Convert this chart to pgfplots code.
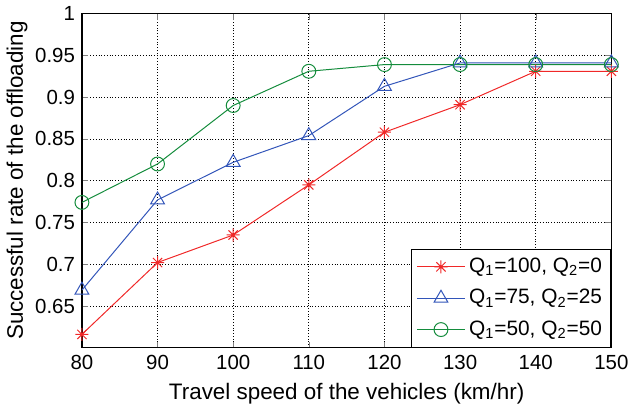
\documentclass[border=0pt]{standalone}
\usepackage{pgfplots}
\pgfplotsset{compat=1.18}
\usepackage{fontspec}
\setmainfont{Liberation Sans}
\definecolor{cred}{RGB}{240,40,40}
\definecolor{cblue}{RGB}{50,85,185}
\definecolor{cgreen}{RGB}{20,140,60}
\pgfdeclareplotmark{star8}{%
  \pgfpathmoveto{\pgfqpoint{0pt}{\pgfplotmarksize}}%
  \pgfpathlineto{\pgfqpoint{0pt}{-\pgfplotmarksize}}%
  \pgfpathmoveto{\pgfqpoint{\pgfplotmarksize}{0pt}}%
  \pgfpathlineto{\pgfqpoint{-\pgfplotmarksize}{0pt}}%
  \pgfpathmoveto{\pgfqpoint{0.707\pgfplotmarksize}{0.707\pgfplotmarksize}}%
  \pgfpathlineto{\pgfqpoint{-0.707\pgfplotmarksize}{-0.707\pgfplotmarksize}}%
  \pgfpathmoveto{\pgfqpoint{0.707\pgfplotmarksize}{-0.707\pgfplotmarksize}}%
  \pgfpathlineto{\pgfqpoint{-0.707\pgfplotmarksize}{0.707\pgfplotmarksize}}%
  \pgfusepathqstroke}
\begin{document}
\begin{tikzpicture}
\begin{axis}[
  scale only axis,
  width=267pt, height=168.5pt,
  xmin=80, xmax=150, ymin=0.6, ymax=1,
  xtick={80,90,...,150},
  ytick={0.65,0.7,0.75,0.8,0.85,0.9,0.95,1},
  yticklabels={0.65,0.7,0.75,0.8,0.85,0.9,0.95,1},
  /pgf/number format/assume math mode=true,
  tick label style={font=\fontsize{10.3}{12}\selectfont},
  label style={font=\fontsize{11.3}{13}\selectfont},
  xlabel={Travel speed of the vehicles (km/hr)},
  ylabel={Successful rate of the offloading},
  xlabel style={yshift=0pt},
  ylabel style={yshift=-3pt},
  grid=major,
  major grid style={black, densely dotted, line width=0.4pt},
  tick align=inside,
  axis line style={line width=0.6pt},
  major tick length=3pt,
  legend style={font=\fontsize{10.5}{12}\selectfont, draw=black, line width=0.5pt, row sep=3pt, at={(1,0)}, anchor=south east, inner sep=2.5pt},
  legend cell align=left,
  legend image code/.code={\draw[mark repeat=2,mark phase=2] plot coordinates {(0cm,0cm) (0.42cm,0cm) (0.84cm,0cm)};},
  every axis plot/.append style={line width=0.5pt},
]
\addplot[color=cred, mark=star8, mark size=3.3pt] coordinates {
(80,0.616) (90,0.702) (100,0.735) (110,0.795) (120,0.858) (130,0.891) (140,0.931) (150,0.931)};
\addlegendentry{Q\textsubscript{1}=100, Q\textsubscript{2}=0}
\addplot[color=cblue, mark=triangle, mark size=4pt] coordinates {
(80,0.669) (90,0.777) (100,0.822) (110,0.854) (120,0.913) (130,0.941) (140,0.941) (150,0.941)};
\addlegendentry{Q\textsubscript{1}=75, Q\textsubscript{2}=25}
\addplot[color=cgreen, mark=o, mark size=3.5pt] coordinates {
(80,0.774) (90,0.820) (100,0.890) (110,0.931) (120,0.939) (130,0.939) (140,0.939) (150,0.939)};
\addlegendentry{Q\textsubscript{1}=50, Q\textsubscript{2}=50}
\end{axis}
\end{tikzpicture}
\end{document}
